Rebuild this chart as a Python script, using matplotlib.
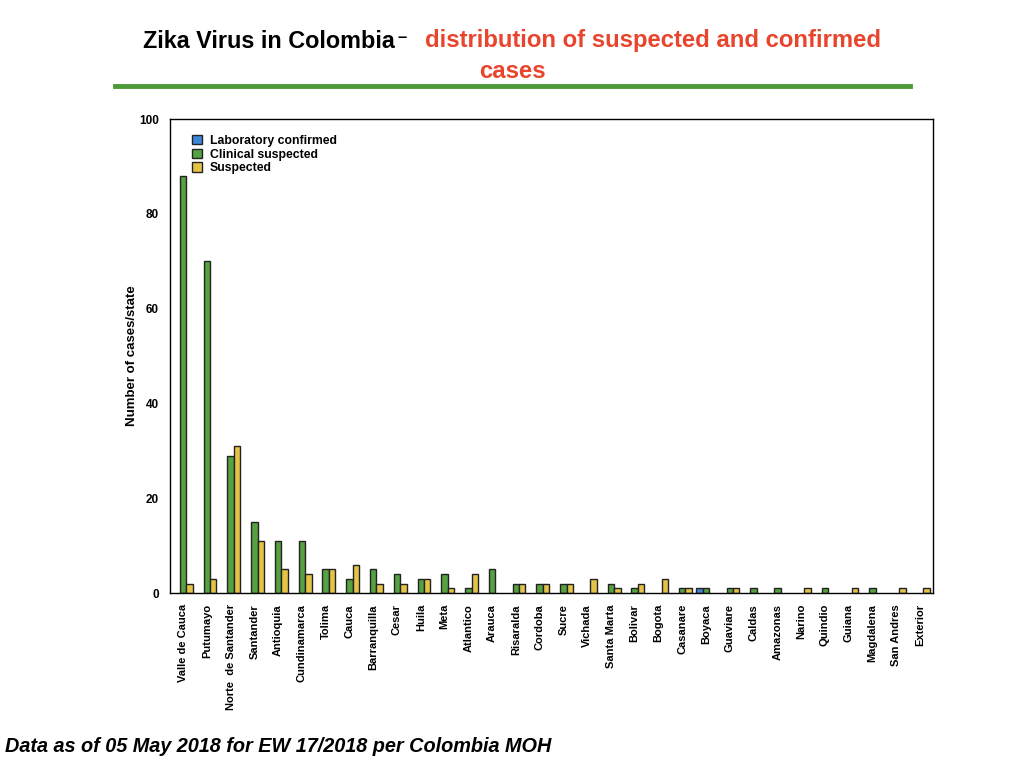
import numpy as np
import matplotlib.pyplot as plt
from matplotlib.patches import Patch

plt.rcParams['font.family'] = 'Liberation Sans'

# Departments, in the order shown on the chart
states = ['Valle de Cauca', 'Putumayo', 'Norte  de Santander', 'Santander', 'Antioquia',
          'Cundinamarca', 'Tolima', 'Cauca', 'Barranquilla', 'Cesar', 'Huila', 'Meta',
          'Atlantico', 'Arauca', 'Risaralda', 'Cordoba', 'Sucre', 'Vichada', 'Santa Marta',
          'Bolivar', 'Bogota', 'Casanare', 'Boyaca', 'Guaviare', 'Caldas', 'Amazonas',
          'Narino', 'Quindio', 'Guiana', 'Magdalena', 'San Andres', 'Exterior']

lab_confirmed = [0, 0, 0, 0, 0, 0, 0, 0, 0, 0, 0, 0, 0, 0, 0, 0,
                 0, 0, 0, 0, 0, 0, 1, 0, 0, 0, 0, 0, 0, 0, 0, 0]
clinical_suspected = [88, 70, 29, 15, 11, 11, 5, 3, 5, 4, 3, 4, 1, 5, 2, 2,
                      2, 0, 2, 1, 0, 1, 1, 1, 1, 1, 0, 1, 0, 1, 0, 0]
suspected = [2, 3, 31, 11, 5, 4, 5, 6, 2, 2, 3, 1, 4, 0, 2, 2,
             2, 3, 1, 2, 3, 1, 0, 1, 0, 0, 1, 0, 1, 0, 1, 1]

blue = '#3f86d8'
green = '#56a240'
yellow = '#e4c446'

fig = plt.figure(figsize=(10.24, 7.68), dpi=100)
ax = fig.add_axes([170 / 1024, 1 - 593 / 768, (933 - 170) / 1024, (593 - 119) / 768])

x = np.arange(len(states))
w = 0.27
# zero values are left out so no flat outline sits on the axis
for off, vals, col in [(-w, lab_confirmed, blue), (0, clinical_suspected, green),
                       (w, suspected, yellow)]:
    vals = np.array(vals)
    keep = vals > 0
    ax.bar(x[keep] + off, vals[keep], w, color=col, edgecolor='#222222', linewidth=1)

ax.set_xlim(-0.55, len(states) - 0.45)
ax.set_ylim(0, 100)
ax.set_yticks([0, 20, 40, 60, 80, 100])
ax.set_xticks(x)
ax.set_xticklabels(states, rotation=90, fontsize=8, fontweight='bold')
for lbl in ax.get_yticklabels():
    lbl.set_fontsize(8.5)
    lbl.set_fontweight('bold')
ax.tick_params(length=0, pad=8)
for s in ax.spines.values():
    s.set_linewidth(1)
ax.set_ylabel('Number of cases/state', fontsize=9.5, fontweight='bold', labelpad=1)

handles = [Patch(facecolor=blue, edgecolor='#222222', label='Laboratory confirmed'),
           Patch(facecolor=green, edgecolor='#222222', label='Clinical suspected'),
           Patch(facecolor=yellow, edgecolor='#222222', label='Suspected')]
ax.legend(handles=handles, loc='upper left', bbox_to_anchor=(0.015, 0.99),
          frameon=False, prop={'size': 8.8, 'weight': 'bold'},
          handlelength=0.8, handleheight=0.8, handletextpad=0.6, labelspacing=0.15)

# title in two colours
fig.text(143 / 1024, 1 - 41 / 768, 'Zika Virus in Colombia', fontsize=16.8, fontweight='bold',
         ha='left', va='center')
fig.text(398 / 1024, 1 - 38 / 768, '\u2013', fontsize=12, fontweight='bold',
         ha='left', va='center')
fig.text(653 / 1024, 1 - 41 / 768, 'distribution of suspected and confirmed', fontsize=17.2,
         fontweight='bold', color='#e8452c', ha='center', va='center')
fig.text(512 / 1024, 1 - 72 / 768, 'cases', fontsize=17.2, fontweight='bold', color='#e8452c',
         ha='center', va='center')

# green rule under the title
fig.add_artist(plt.Line2D([115 / 1024, 910 / 1024], [1 - 86 / 768, 1 - 86 / 768],
                          color='#4c9a35', linewidth=3.5))

fig.text(5 / 1024, 1 - 746 / 768, 'Data as of 05 May 2018 for EW 17/2018 per Colombia MOH',
         fontsize=14.3, fontweight='bold', fontstyle='italic', ha='left', va='center')

plt.savefig('out.png', dpi=100)
